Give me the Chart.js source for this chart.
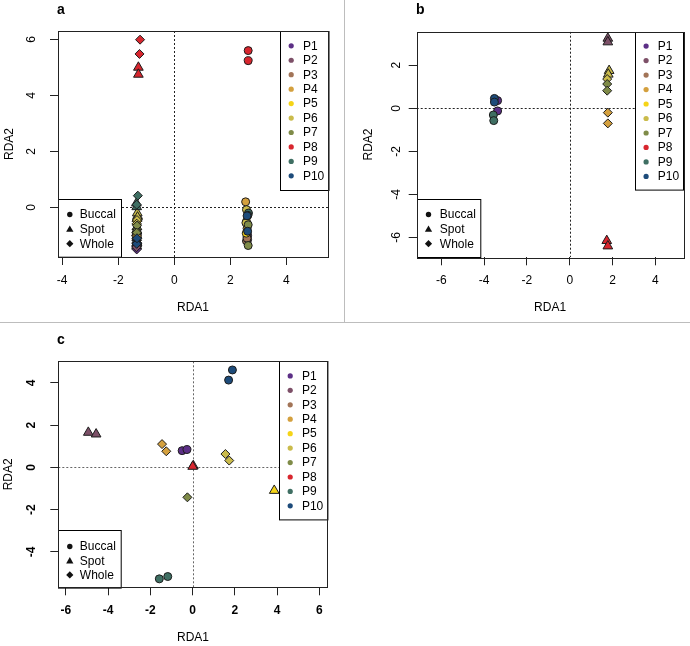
<!DOCTYPE html>
<html><head><meta charset="utf-8">
<script src="https://cdn.jsdelivr.net/npm/chart.js@4.4.1/dist/chart.umd.min.js"></script>
<style>
html,body{margin:0;padding:0;background:#fff;}
body{width:690px;height:646px;position:relative;overflow:hidden;}
canvas{position:absolute;}
#vsep{position:absolute;left:344px;top:0;width:1px;height:322px;background:#bdbdbd;}
#hsep{position:absolute;left:0;top:322px;width:690px;height:1px;background:#bdbdbd;}
</style></head><body>
<canvas id="ca" width="344" height="322" style="left:0;top:0"></canvas>
<canvas id="cb" width="344" height="322" style="left:346px;top:0"></canvas>
<canvas id="cc" width="344" height="322" style="left:0;top:324px"></canvas>
<div id="vsep"></div><div id="hsep"></div>
<script>
// ---------- shared categories ----------
const participants = ['P1','P2','P3','P4','P5','P6','P7','P8','P9','P10'];
const participantColors = ['#5c2f86','#7d5068','#a27457','#d4a03e','#f5d417','#cabb4b','#7f8b48','#d8262e','#3f6f63','#1d4b7a'];
const sites = ['Buccal','Spot','Whole'];
const siteShapes = ['circle','triangle','rectRot'];
const siteRadius = [4, 5.6, 4.5];

// ---------- panel a ----------
const aParticipant = ['P1','P1','P1','P1','P1','P1','P2','P2','P2','P2','P2','P2','P3','P3','P3','P3','P3','P3','P4','P4','P4','P4','P4','P4','P5','P5','P5','P5','P5','P5','P6','P6','P6','P6','P6','P6','P7','P7','P7','P7','P7','P7','P8','P8','P8','P8','P8','P8','P9','P9','P9','P9','P9','P9','P10','P10','P10','P10','P10','P10'];
const aSite = ['Buccal','Buccal','Spot','Spot','Whole','Whole','Buccal','Buccal','Spot','Spot','Whole','Whole','Buccal','Buccal','Spot','Spot','Whole','Whole','Buccal','Buccal','Spot','Spot','Whole','Whole','Buccal','Buccal','Spot','Spot','Whole','Whole','Buccal','Buccal','Spot','Spot','Whole','Whole','Buccal','Buccal','Spot','Spot','Whole','Whole','Buccal','Buccal','Spot','Spot','Whole','Whole','Buccal','Buccal','Spot','Spot','Whole','Whole','Buccal','Buccal','Spot','Spot','Whole','Whole'];
const aRDA1 = [2.60,2.62,-1.34,-1.34,-1.35,-1.34, 2.60,2.62,-1.33,-1.34,-1.33,-1.35, 2.58,2.60,-1.33,-1.34,-1.33,-1.35, 2.55,2.60,-1.33,-1.35,-1.34,-1.33, 2.57,2.58,-1.31,-1.33,-1.33,-1.34, 2.58,2.56,-1.32,-1.31,-1.33,-1.34, 2.64,2.64,-1.33,-1.34,-1.33,-1.34, 2.64,2.64,-1.28,-1.28,-1.22,-1.24, 2.65,2.63,-1.35,-1.34,-1.30,-1.34, 2.62,2.60,-1.34,-1.33,-1.34,-1.33];
const aRDA2 = [-0.90,-1.00,-1.30,-1.38,-1.45,-1.50, -1.05,-1.15,-1.20,-1.28,-1.35,-1.42, -1.20,-1.10,-1.00,-1.08,-0.95,-1.12, 0.20,-0.75,-0.85,-0.92,-0.78,-1.02, -0.92,-0.50,-0.30,-0.40,-0.50,-0.60, -0.08,-0.55,-0.20,-0.35,-0.45,-0.58, -0.62,-1.36,-0.70,-0.80,-0.65,-0.90, 5.60,5.24,5.00,4.75,5.99,5.48, -0.20,-0.28,0.15,0.02,0.42,0.10, -0.85,-0.30,-1.18,-1.25,-1.30,-1.10];

// ---------- panel b ----------
const bParticipant = ['P1','P1','P2','P2','P4','P4','P6','P6','P6','P7','P7','P8','P8','P9','P9','P10','P10'];
const bSite = ['Buccal','Buccal','Spot','Spot','Whole','Whole','Spot','Spot','Whole','Whole','Whole','Spot','Spot','Buccal','Buccal','Buccal','Buccal'];
const bRDA1 = [-3.37,-3.37, 1.78,1.78, 1.78,1.78, 1.84,1.80,1.75, 1.75,1.75, 1.73,1.78, -3.57,-3.55, -3.52,-3.52];
const bRDA2 = [0.36,-0.12, 3.25,3.08, -0.20,-0.70, 1.75,1.58,1.36, 1.13,0.82, -6.15,-6.40, -0.31,-0.57, 0.46,0.29];

// ---------- panel c ----------
const cParticipant = ['P1','P1','P2','P2','P4','P4','P5','P6','P6','P7','P8','P8','P9','P9','P10','P10'];
const cSite = ['Buccal','Buccal','Spot','Spot','Whole','Whole','Spot','Whole','Whole','Whole','Spot','Spot','Buccal','Buccal','Buccal','Buccal'];
const cRDA1 = [-0.50,-0.27, -4.94,-4.57, -1.45,-1.25, 3.86, 1.55,1.73, -0.25, 0.03,0.00, -1.58,-1.18, 1.88,1.70];
const cRDA2 = [0.79,0.84, 1.65,1.57, 1.10,0.76, -1.10, 0.63,0.32, -1.42, 0.07,0.04, -5.28,-5.17, 4.61,4.13];

// ---------- tick values ----------
const tickStep = 2;

const FONT = '"Liberation Sans", Arial, Helvetica, sans-serif';

function pIdx(arr, ctx){ return ctx.dataIndex === undefined ? 0 : participants.indexOf(arr[ctx.dataIndex]); }
function sIdx(arr, ctx){ return ctx.dataIndex === undefined ? 0 : sites.indexOf(arr[ctx.dataIndex]); }

function drawShape(ctx, shape, x, y, r){
  ctx.beginPath();
  if (shape === 'circle') ctx.arc(x, y, r, 0, Math.PI*2);
  else if (shape === 'triangle') {
    ctx.moveTo(x, y - r); ctx.lineTo(x + r*0.866, y + r*0.5); ctx.lineTo(x - r*0.866, y + r*0.5);
  } else {
    ctx.moveTo(x, y - r); ctx.lineTo(x + r, y); ctx.lineTo(x, y + r); ctx.lineTo(x - r, y);
  }
  ctx.closePath();
}

const rPlugin = {
  id: 'rstyle',
  beforeDatasetsDraw(chart){
    const o = chart.options.plugins.rstyle;
    const {ctx, chartArea: a, scales: {x, y}} = chart;
    ctx.save();
    ctx.beginPath(); ctx.rect(a.left, a.top, a.right - a.left, a.bottom - a.top); ctx.clip();
    ctx.strokeStyle = o.zeroColor; ctx.lineWidth = 1; ctx.setLineDash([2, 2]);
    const x0 = Math.round(x.getPixelForValue(0)) + 0.5;
    const y0 = Math.round(y.getPixelForValue(0)) + 0.5;
    ctx.beginPath(); ctx.moveTo(x0, a.top); ctx.lineTo(x0, a.bottom); ctx.stroke();
    ctx.beginPath(); ctx.moveTo(a.left, y0); ctx.lineTo(a.right, y0); ctx.stroke();
    ctx.restore();
  },
  afterDatasetsDraw(chart){
    const o = chart.options.plugins.rstyle;
    const {ctx, chartArea: a} = chart;
    ctx.save();
    ctx.setLineDash([]);
    ctx.font = '12px ' + FONT; ctx.textBaseline = 'middle'; ctx.textAlign = 'left';
    // participant legend (top-right)
    const L = o.pLeg;
    const lx = Math.round(a.right - L.w) + 0.5, ly = Math.round(a.top) + 0.5;
    ctx.fillStyle = '#fff'; ctx.fillRect(lx, ly, L.w, L.h);
    ctx.strokeStyle = '#000'; ctx.lineWidth = 1; ctx.strokeRect(lx, ly, L.w, L.h);
    participants.forEach((p, i) => {
      const cy = ly + L.first + i * L.step;
      drawShape(ctx, 'circle', lx + L.mx, cy, 2.6);
      ctx.fillStyle = participantColors[i]; ctx.fill();
      ctx.fillStyle = '#000'; ctx.fillText(p, lx + L.tx, cy + 0.5);
    });
    // site legend (bottom-left)
    const S = o.sLeg;
    const sx = Math.round(a.left) + 0.5, sy = Math.round(a.bottom - S.h) + 0.5;
    ctx.fillStyle = '#fff'; ctx.fillRect(sx, sy, S.w, S.h);
    ctx.strokeStyle = '#000'; ctx.strokeRect(sx, sy, S.w, S.h);
    const sr = [2.7, 4.2, 3.6];
    sites.forEach((s, i) => {
      const cy = sy + S.first + i * S.step;
      drawShape(ctx, siteShapes[i], sx + S.mx, cy + (i === 1 ? 0.6 : 0), sr[i]);
      ctx.fillStyle = '#111'; ctx.fill();
      ctx.fillStyle = '#000'; ctx.fillText(s, sx + S.tx, cy + 0.5);
    });
    // plot box
    ctx.strokeStyle = '#222'; ctx.lineWidth = 1;
    ctx.strokeRect(Math.round(a.left) + 0.5, Math.round(a.top) + 0.5, Math.round(a.right - a.left), Math.round(a.bottom - a.top));
    ctx.restore();
  },
  afterDraw(chart){
    const o = chart.options.plugins.rstyle;
    const {ctx, chartArea: a, scales: {y}} = chart;
    ctx.save();
    // y tick labels (rotated, R style)
    ctx.font = (o.bold ? 'bold ' : '') + '12px ' + FONT;
    ctx.fillStyle = '#000'; ctx.textAlign = 'center'; ctx.textBaseline = 'middle';
    y.ticks.forEach(t => {
      const py = y.getPixelForValue(t.value);
      ctx.save(); ctx.translate(a.left - o.yLabGap, py); ctx.rotate(-Math.PI/2);
      ctx.fillText(String(t.value), 0, 0); ctx.restore();
    });
    // panel letter
    ctx.font = 'bold 14px ' + FONT; ctx.textAlign = 'left';
    ctx.fillText(o.letter, o.letterX, o.letterY);
    ctx.restore();
  }
};

function makeChart(id, part, site, xs, ys, cfg){
  const W = 344, H = 322;
  return new Chart(document.getElementById(id), {
    type: 'scatter',
    data: { datasets: [{
      data: xs.map((v, i) => ({x: v, y: ys[i]})),
      pointStyle: c => siteShapes[sIdx(site, c)],
      pointRadius: c => siteRadius[sIdx(site, c)],
      pointHoverRadius: c => siteRadius[sIdx(site, c)],
      backgroundColor: c => participantColors[pIdx(part, c)],
      borderColor: '#1c1c1c', borderWidth: 1, pointHoverBorderWidth: 1
    }]},
    options: {
      responsive: false, animation: false, events: [],
      layout: { padding: { top: cfg.area.top, right: W - cfg.area.right, left: 0, bottom: 0 } },
      plugins: { legend: {display: false}, tooltip: {enabled: false},
        rstyle: cfg.style },
      scales: {
        x: { type: 'linear', position: 'bottom', min: cfg.xmin, max: cfg.xmax,
          afterFit: s => { s.height = H - cfg.area.bottom; },
          border: {display: false},
          grid: { drawOnChartArea: false, drawTicks: true, tickLength: 8, color: '#222', lineWidth: 1 },
          ticks: { stepSize: tickStep, includeBounds: false, autoSkip: false, maxRotation: 0, minRotation: 0,
            padding: 8, color: '#000', font: { family: FONT, size: 12, weight: cfg.style.bold ? 'bold' : 'normal' } },
          title: { display: true, text: 'RDA1', color: '#000', font: { family: FONT, size: 12 },
            padding: { top: 0, bottom: cfg.xTitlePad } }
        },
        y: { type: 'linear', position: 'left', min: cfg.ymin, max: cfg.ymax,
          afterFit: s => { s.width = cfg.area.left; },
          border: {display: false},
          grid: { drawOnChartArea: false, drawTicks: true, tickLength: 8, color: '#222', lineWidth: 1 },
          ticks: { stepSize: tickStep, includeBounds: false, autoSkip: false, display: false },
          title: { display: true, text: 'RDA2', color: '#000', font: { family: FONT, size: 12 },
            padding: { top: cfg.yTitlePad, bottom: 0 } }
        }
      }
    },
    plugins: [rPlugin]
  });
}

makeChart('ca', aParticipant, aSite, aRDA1, aRDA2, {
  area: {left: 58, top: 31, right: 328, bottom: 257},
  xmin: -4.15, xmax: 5.49, ymin: -1.77, ymax: 6.30,
  xTitlePad: 6.8, yTitlePad: 2.8,
  style: { letter: 'a', letterX: 57, letterY: 10, bold: false, yLabGap: 26.5, zeroColor: '#222',
    pLeg: {w: 48.5, h: 159, first: 14.3, step: 14.45, mx: 10.7, tx: 22.4},
    sLeg: {w: 63, h: 57.7, first: 15, step: 14.6, mx: 11.3, tx: 21.3} }
});

makeChart('cb', bParticipant, bSite, bRDA1, bRDA2, {
  area: {left: 70.7, top: 31.7, right: 339.7, bottom: 257.3},
  xmin: -7.15, xmax: 5.31, ymin: -6.92, ymax: 3.56,
  xTitlePad: 6.8, yTitlePad: 15.1,
  style: { letter: 'b', letterX: 70, letterY: 10, bold: false, yLabGap: 20, zeroColor: '#222',
    pLeg: {w: 48, h: 157.6, first: 13.6, step: 14.48, mx: 10.6, tx: 22.3},
    sLeg: {w: 63.3, h: 58, first: 15, step: 14.6, mx: 11, tx: 22.3} }
});

makeChart('cc', cParticipant, cSite, cRDA1, cRDA2, {
  area: {left: 58.3, top: 37.3, right: 327.7, bottom: 263.3},
  xmin: -6.36, xmax: 6.39, ymin: -5.68, ymax: 5.02,
  xTitlePad: 0.8, yTitlePad: 1.1,
  style: { letter: 'c', letterX: 57, letterY: 15.7, bold: true, yLabGap: 26.5, zeroColor: '#666',
    pLeg: {w: 48.4, h: 158.4, first: 14.4, step: 14.44, mx: 10.7, tx: 22.4},
    sLeg: {w: 62.7, h: 57.6, first: 16, step: 14.2, mx: 11.3, tx: 21.3} }
});
</script>
</body></html>
